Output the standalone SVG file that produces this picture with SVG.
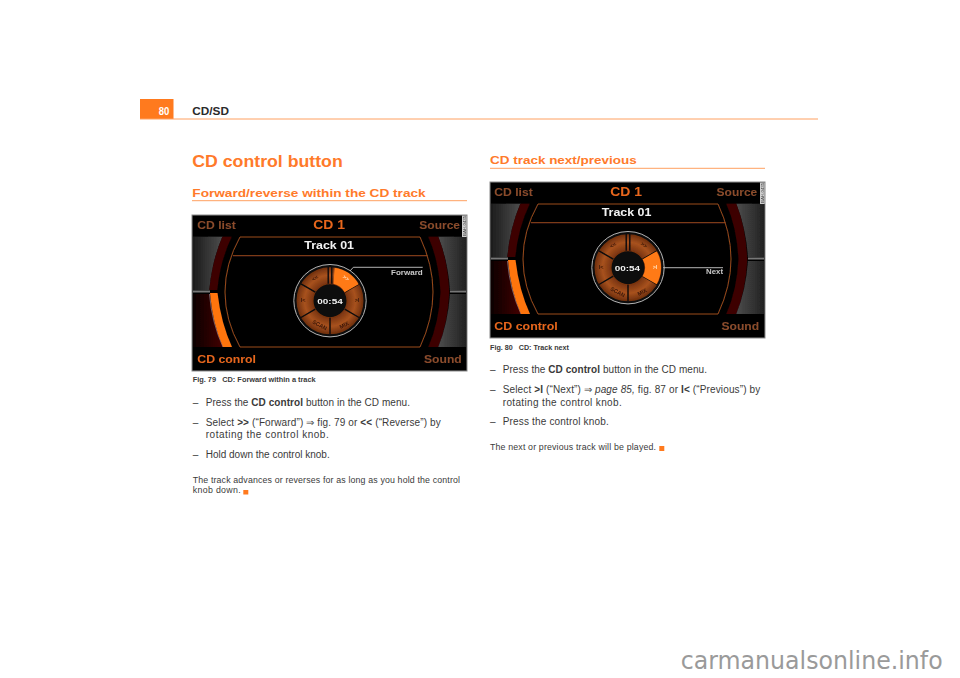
<svg xmlns="http://www.w3.org/2000/svg" width="960" height="678" viewBox="0 0 960 678">
<style>
text{font-family:"Liberation Sans",Arial,sans-serif}
.b{font-weight:700}
.h1,.h2{font-weight:700;fill:#ff7a2a}
.body{font-size:10px;fill:#3a3a3a}
.small{font-size:8.8px;fill:#3a3a3a}
.cap{font-size:7px;font-weight:700;fill:#3a3a3a}
.rule{stroke:#ffa061;stroke-width:1;fill:none}
.sq{fill:#ff7a1e}
.dull{font-size:11px;font-weight:700;fill:#8c4c2c}
.hot{font-size:11px;font-weight:700;fill:#e8661c}
.white{font-weight:700;fill:#f2f2f2}
.hint{font-size:6.5px;font-weight:700;fill:#c8c8c8}
.seg{font-size:5.5px;font-weight:700;fill:#3a1606;text-anchor:middle}
.outline{fill:none;stroke:#a8501c;stroke-width:.9}
.sep{stroke:#0a0a0a;stroke-width:1.4}
</style>
<defs>
<filter id="soft" x="-2%" y="-2%" width="104%" height="104%"><feGaussianBlur stdDeviation=".35"/></filter>
<linearGradient id="grayL" x1="0" x2="1" y1="0" y2="0"><stop offset="0" stop-color="#1c1c1c"/><stop offset="1" stop-color="#4c4c4c"/></linearGradient>
<linearGradient id="grayR" x1="0" x2="1" y1="0" y2="0"><stop offset="0" stop-color="#4c4c4c"/><stop offset="1" stop-color="#222"/></linearGradient>
<linearGradient id="redL" x1="0" x2="1" y1="0" y2="0"><stop offset="0" stop-color="#0c0000"/><stop offset="1" stop-color="#420406"/></linearGradient>
<radialGradient id="ring" gradientUnits="userSpaceOnUse" cx="0" cy="0" r="34"><stop offset=".5" stop-color="#7a3410"/><stop offset=".75" stop-color="#a8521e"/><stop offset="1" stop-color="#6a2c0c"/></radialGradient>
<g id="screen">
<rect x="0" y="0" width="275" height="156" fill="#060606" stroke="#8a8a8a" stroke-width="1"/>
<path d="M1 21.7H30.3Q20 46 17.3 75H1Z" fill="url(#grayL)"/>
<path d="M30.3 21.7H39.7Q28 46 25.3 75H17.3Q20 46 30.3 21.7Z" fill="#3c0406"/>
<path d="M1 79H17.5Q20 108 31 132H1Z" fill="url(#redL)"/>
<path d="M17.5 79Q20 108 31 132" fill="none" stroke="#a08c96" stroke-width=".7"/>
<path d="M18 78H25.5Q29 108 40 132H31Q20.5 108 18 78Z" fill="#ff7410"/>
<path d="M1 76.5H18" stroke="#777" stroke-width="2"/>
<path d="M274 21.7H246.3Q256 46 258 75H274Z" fill="url(#grayR)"/>
<path d="M236.3 21.7H246.3Q256 46 257.3 77Q256 108 246.3 132H236.3Q247 108 248.5 77Q247 46 236.3 21.7Z" fill="#3c0406"/>
<path d="M274 132H246.3Q256 108 258 79H274Z" fill="url(#grayR)"/>
<path d="M258 76.5H274" stroke="#777" stroke-width="2"/>
<path class="outline" d="M48 22H228Q241 50 241 77T228 132H48Q33 105 33 77T48 22Z"/>
<path class="outline" d="M41 40.7H235.5"/>
<rect x="270" y=".5" width="4.7" height="21.5" fill="#cfcfcf"/>
<text transform="translate(274,21) rotate(-90)" font-size="4.4" fill="#444">BAH-0435</text>
<g transform="translate(138,85.7)">
<circle r="36.2" fill="#0c0c0c" stroke="#b4b4b4" stroke-width="1"/>
<circle r="25" fill="none" stroke="url(#ring)" stroke-width="17"/>
<path class="sep" d="M1.8 -17V-34M-1.8 -17V-34M14.7 -8.5L29 -16.8M14.7 8.5L29 16.8M0 17V34M-14.7 -8.5L-29 -16.8M-14.7 8.5L-29 16.8"/>
<text class="seg" transform="translate(-14,-21) rotate(-30)">&lt;&lt;</text>
<text class="seg" transform="translate(-27,1.5)">I&lt;</text>
<text class="seg" transform="translate(-11,26) rotate(28)">SCAN</text>
<text class="seg" transform="translate(15,26) rotate(-28)">MIX</text>
</g>
</g>
</defs>
<rect width="960" height="678" fill="#fff"/>

<g id="page-header">
<rect x="140" y="99" width="33.5" height="20" fill="#ff7a1e"/>
<path class="rule" d="M140 119H818"/>
<text x="158.7" y="115.3" class="b" font-size="10" fill="#fff" textLength="10.6" lengthAdjust="spacingAndGlyphs">80</text>
<text x="192.3" y="115.3" class="b" font-size="10" fill="#2a2a2a" textLength="36.7" lengthAdjust="spacingAndGlyphs">CD/SD</text>
</g>

<g id="left-column">
<text x="192.3" y="167.3" class="h1" font-size="16" textLength="150.4" lengthAdjust="spacingAndGlyphs">CD control button</text>
<text x="192.3" y="197" class="h2" font-size="11.3" textLength="233.4" lengthAdjust="spacingAndGlyphs">Forward/reverse within the CD track</text>
<path class="rule" d="M192 200.7H467"/>
<g id="fig79" transform="translate(192,215)">
<g filter="url(#soft)">
<use href="#screen"/>
<g transform="translate(138,85.7)">
<path d="M3.5 -17L4.6 -33A33 33 0 0 1 28.6 -16.5L14.7 -8.5A17 17 0 0 0 3.5 -17Z" fill="#ff7a14"/>
<text class="seg" style="fill:#ffe0c0" transform="translate(15,-21) rotate(30)">&gt;&gt;</text>
<text class="seg" transform="translate(27,1.5)">&gt;I</text>
</g>
<path d="M158 56L161.3 52.3H230.7" fill="none" stroke="#c4c4c4" stroke-width=".9"/>
<text x="5.3" y="14" class="dull" textLength="38.4" lengthAdjust="spacingAndGlyphs">CD list</text>
<text x="121.3" y="14" class="hot" style="font-size:13px" textLength="31.7" lengthAdjust="spacingAndGlyphs">CD 1</text>
<text x="227.3" y="14" class="dull" textLength="40.7" lengthAdjust="spacingAndGlyphs">Source</text>
<text x="112.3" y="34.3" class="white" font-size="11" textLength="49.7" lengthAdjust="spacingAndGlyphs">Track 01</text>
<text x="125.3" y="88.7" class="white" font-size="8" textLength="25.4" lengthAdjust="spacingAndGlyphs">00:54</text>
<text x="199" y="60" class="hint" textLength="31.7" lengthAdjust="spacingAndGlyphs">Forward</text>
<text x="5.3" y="148.3" class="hot" textLength="58.7" lengthAdjust="spacingAndGlyphs">CD conrol</text>
<text x="232" y="148.3" class="dull" textLength="37.7" lengthAdjust="spacingAndGlyphs">Sound</text>
</g>
</g>
<text x="192.7" y="382.3" class="cap" xml:space="preserve" textLength="123" lengthAdjust="spacingAndGlyphs">Fig. 79   CD: Forward within a track</text>
<text x="192.7" y="406" class="body">–</text>
<text x="205.7" y="406" class="body" textLength="204.3">Press the <tspan class="b">CD control</tspan> button in the CD menu.</text>
<text x="192.7" y="426" class="body">–</text>
<text x="205.7" y="426" class="body" textLength="235">Select <tspan class="b">&gt;&gt;</tspan> (“Forward”) ⇒ fig. 79 or <tspan class="b">&lt;&lt;</tspan> (“Reverse”) by</text>
<text x="205.7" y="438.3" class="body" textLength="123">rotating the control knob.</text>
<text x="192.7" y="458" class="body">–</text>
<text x="205.7" y="458" class="body" textLength="124">Hold down the control knob.</text>
<text x="192.7" y="482.7" class="small" textLength="267.3">The track advances or reverses for as long as you hold the control</text>
<text x="192.7" y="493.3" class="small" textLength="48">knob down.</text>
<rect class="sq" x="243.3" y="490" width="5" height="4.5"/>
</g>

<g id="right-column">
<text x="490" y="164.3" class="h2" font-size="11.3" textLength="146.7" lengthAdjust="spacingAndGlyphs">CD track next/previous</text>
<path class="rule" d="M490 168.3H765"/>
<g id="fig80" transform="translate(490,182)">
<g filter="url(#soft)">
<use href="#screen"/>
<g transform="translate(138,85.7)">
<path d="M14.7 -8.5L28.6 -16.5A33 33 0 0 1 28.6 16.5L14.7 8.5A17 17 0 0 0 14.7 -8.5Z" fill="#ff7a14"/>
<text class="seg" transform="translate(15,-21) rotate(30)">&gt;&gt;</text>
<text class="seg" style="fill:#ffe0c0" transform="translate(27,1.5)">&gt;I</text>
</g>
<path d="M173 85.7H233" fill="none" stroke="#c4c4c4" stroke-width=".9"/>
<text x="4.3" y="14" class="dull" textLength="38.4" lengthAdjust="spacingAndGlyphs">CD list</text>
<text x="120.3" y="14" class="hot" style="font-size:13px" textLength="31.7" lengthAdjust="spacingAndGlyphs">CD 1</text>
<text x="226.6" y="14" class="dull" textLength="40.7" lengthAdjust="spacingAndGlyphs">Source</text>
<text x="111.7" y="34.3" class="white" font-size="11" textLength="49.7" lengthAdjust="spacingAndGlyphs">Track 01</text>
<text x="124.7" y="88.7" class="white" font-size="8" textLength="25.4" lengthAdjust="spacingAndGlyphs">00:54</text>
<text x="216" y="92.3" class="hint" textLength="17" lengthAdjust="spacingAndGlyphs">Next</text>
<text x="4.3" y="148.3" class="hot" textLength="63.4" lengthAdjust="spacingAndGlyphs">CD control</text>
<text x="231.4" y="148.3" class="dull" textLength="37.7" lengthAdjust="spacingAndGlyphs">Sound</text>
</g>
</g>
<text x="490" y="349.7" class="cap" xml:space="preserve" textLength="79" lengthAdjust="spacingAndGlyphs">Fig. 80   CD: Track next</text>
<text x="490" y="373.3" class="body">–</text>
<text x="502.7" y="373.3" class="body" textLength="204.3">Press the <tspan class="b">CD control</tspan> button in the CD menu.</text>
<text x="490" y="393.3" class="body">–</text>
<text x="502.7" y="393.3" class="body" textLength="257.6">Select <tspan class="b">&gt;I</tspan> (“Next”) ⇒ <tspan font-style="italic">page 85,</tspan> fig. 87 or <tspan class="b">I&lt;</tspan> (“Previous”) by</text>
<text x="502.7" y="405.7" class="body" textLength="119">rotating the control knob.</text>
<text x="490" y="425" class="body">–</text>
<text x="502.7" y="425" class="body" textLength="106">Press the control knob.</text>
<text x="490" y="450.3" class="small" textLength="166">The next or previous track will be played.</text>
<rect class="sq" x="659.3" y="446" width="5" height="5"/>
</g>

<text id="watermark" x="680.7" y="669" font-size="24" fill="#9a9a9a" style="font-family:'DejaVu Sans',sans-serif" textLength="262" lengthAdjust="spacingAndGlyphs">carmanualsonline.info</text>
</svg>
